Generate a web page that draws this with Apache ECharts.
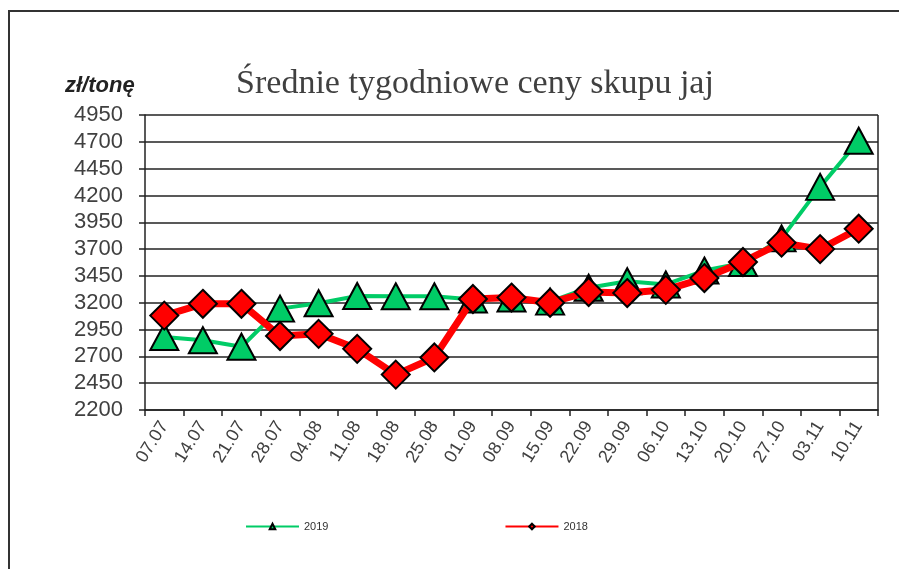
<!DOCTYPE html>
<html>
<head>
<meta charset="utf-8">
<script src="https://cdn.jsdelivr.net/npm/echarts@6/dist/echarts.min.js"></script>
<style>
html,body{margin:0;padding:0;background:#fff;}
#c{width:899px;height:569px;}
</style>
</head>
<body>
<div id="c"></div>
<script>
const categories = ['07.07','14.07','21.07','28.07','04.08','11.08','18.08','25.08','01.09','08.09','15.09','22.09','29.09','06.10','13.10','20.10','27.10','03.11','10.11'];
const values2019 = [2880,2850,2790,3145,3195,3263,3260,3260,3230,3240,3210,3340,3400,3370,3500,3570,3800,4280,4710];
const values2018 = [3080,3190,3190,2890,2910,2770,2530,2690,3235,3248,3200,3300,3290,3320,3430,3580,3760,3700,3890];
const yMin = 2200, yMax = 4950, yStep = 250;

const chart = echarts.init(document.getElementById('c'));
chart.setOption({
  animation: false,
  backgroundColor: '#fff',
  graphic: [{
    type: 'rect',
    shape: {x: 9, y: 11, width: 1000, height: 1000},
    style: {fill: 'none', stroke: '#333', lineWidth: 2}
  }, {
    type: 'line',
    shape: {x1: 878, y1: 115, x2: 878, y2: 410},
    style: {stroke: '#222', lineWidth: 1.5}
  }],
  title: [{
    text: 'Średnie tygodniowe ceny skupu jaj',
    left: 470, textAlign: 'center', top: 62,
    textStyle: {fontFamily: 'Liberation Serif', fontWeight: 'normal', fontSize: 34, color: '#404040'}
  }, {
    text: 'zł/tonę',
    left: 60, top: 70,
    textStyle: {fontFamily: 'Liberation Sans', fontWeight: 'bold', fontStyle: 'italic', fontSize: 22, color: '#222'}
  }],
  legend: {
    left: 240, top: 516,
    itemWidth: 53, itemHeight: 7, itemGap: 176,
    textStyle: {fontFamily: 'Liberation Sans', fontSize: 11, color: '#333'},
    data: ['2019', '2018']
  },
  grid: {left: 145, right: 21, top: 115, bottom: 159},
  xAxis: {
    type: 'category',
    data: categories,
    boundaryGap: true,
    axisLine: {lineStyle: {color: '#222', width: 1.5}},
    axisTick: {show: true, interval: 0, length: 6, lineStyle: {color: '#222', width: 1.5}},
    axisLabel: {interval: 0, rotate: 58, fontFamily: 'Liberation Sans', fontSize: 18, color: '#404040', margin: 13},
    splitLine: {show: false}
  },
  yAxis: {
    type: 'value',
    min: yMin, max: yMax, interval: yStep,
    axisLine: {show: true, lineStyle: {color: '#222', width: 1.5}},
    axisTick: {show: true, inside: false, length: 6, lineStyle: {color: '#222', width: 1.5}},
    axisLabel: {fontFamily: 'Liberation Sans', fontSize: 22, color: '#404040', margin: 22, formatter: v => String(v)},
    splitLine: {show: true, lineStyle: {color: '#222', width: 1.5}}
  },
  series: [{
    name: '2019',
    type: 'line',
    data: values2019,
    symbol: 'triangle',
    symbolSize: [28, 26],
    lineStyle: {color: '#00cc66', width: 4},
    itemStyle: {color: '#00cc66', borderColor: '#000', borderWidth: 2},
    z: 2
  }, {
    name: '2018',
    type: 'line',
    data: values2018,
    symbol: 'diamond',
    symbolSize: [28, 28],
    lineStyle: {color: '#ff0000', width: 7},
    itemStyle: {color: '#ff0000', borderColor: '#000', borderWidth: 2},
    z: 3
  }]
});
</script>
</body>
</html>
